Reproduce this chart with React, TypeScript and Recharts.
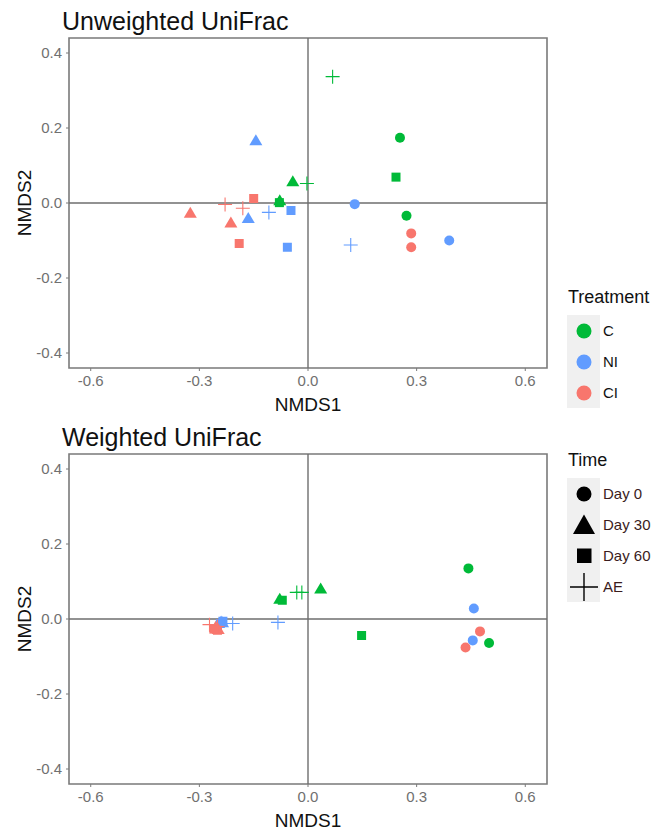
import React from "react"
import {
  ScatterChart,
  Scatter,
  XAxis,
  YAxis,
  ReferenceLine,
  ReferenceArea,
} from "recharts"

type Pt = { x: number; y: number; time: string }

const TREATMENTS = ["C", "NI", "CI"]
const TIMES = ["Day 0", "Day 30", "Day 60", "AE"]
const X_TICKS = [-0.6, -0.3, 0, 0.3, 0.6]
const Y_TICKS = [-0.4, -0.2, 0, 0.2, 0.4]

// Unweighted UniFrac
const unweightedC: Pt[] = [
  { x: 0.254, y: 0.174, time: "Day 0" },
  { x: 0.272, y: -0.034, time: "Day 0" },
  { x: -0.042, y: 0.057, time: "Day 30" },
  { x: -0.078, y: 0.006, time: "Day 30" },
  { x: 0.243, y: 0.069, time: "Day 60" },
  { x: -0.079, y: 0.001, time: "Day 60" },
  { x: 0.068, y: 0.337, time: "AE" },
  { x: -0.003, y: 0.052, time: "AE" },
]
const unweightedNI: Pt[] = [
  { x: 0.129, y: -0.003, time: "Day 0" },
  { x: 0.39, y: -0.1, time: "Day 0" },
  { x: -0.144, y: 0.166, time: "Day 30" },
  { x: -0.165, y: -0.041, time: "Day 30" },
  { x: -0.047, y: -0.02, time: "Day 60" },
  { x: -0.057, y: -0.118, time: "Day 60" },
  { x: -0.108, y: -0.025, time: "AE" },
  { x: 0.118, y: -0.112, time: "AE" },
]
const unweightedCI: Pt[] = [
  { x: 0.285, y: -0.081, time: "Day 0" },
  { x: 0.285, y: -0.118, time: "Day 0" },
  { x: -0.325, y: -0.027, time: "Day 30" },
  { x: -0.213, y: -0.053, time: "Day 30" },
  { x: -0.15, y: 0.012, time: "Day 60" },
  { x: -0.19, y: -0.108, time: "Day 60" },
  { x: -0.229, y: -0.004, time: "AE" },
  { x: -0.18, y: -0.014, time: "AE" },
]

// Weighted UniFrac
const weightedC: Pt[] = [
  { x: 0.443, y: 0.135, time: "Day 0" },
  { x: 0.5, y: -0.064, time: "Day 0" },
  { x: 0.035, y: 0.08, time: "Day 30" },
  { x: -0.078, y: 0.053, time: "Day 30" },
  { x: 0.148, y: -0.044, time: "Day 60" },
  { x: -0.071, y: 0.05, time: "Day 60" },
  { x: -0.031, y: 0.071, time: "AE" },
  { x: -0.017, y: 0.071, time: "AE" },
]
const weightedNI: Pt[] = [
  { x: 0.458, y: 0.028, time: "Day 0" },
  { x: 0.455, y: -0.057, time: "Day 0" },
  { x: -0.24, y: -0.008, time: "Day 30" },
  { x: -0.236, y: -0.01, time: "Day 30" },
  { x: -0.235, y: -0.006, time: "Day 60" },
  { x: -0.242, y: -0.012, time: "Day 60" },
  { x: -0.083, y: -0.009, time: "AE" },
  { x: -0.208, y: -0.012, time: "AE" },
]
const weightedCI: Pt[] = [
  { x: 0.475, y: -0.033, time: "Day 0" },
  { x: 0.435, y: -0.076, time: "Day 0" },
  { x: -0.255, y: -0.022, time: "Day 30" },
  { x: -0.248, y: -0.028, time: "Day 30" },
  { x: -0.26, y: -0.027, time: "Day 60" },
  { x: -0.25, y: -0.03, time: "Day 60" },
  { x: -0.272, y: -0.015, time: "AE" },
  { x: -0.25, y: -0.02, time: "AE" },
]

const COLORS: Record<string, string> = {
  C: "#00BA38",
  NI: "#619CFF",
  CI: "#F8766D",
}

const FONT = "'Liberation Sans', Arial, Helvetica, sans-serif"
const FRAME = "#7a7a7a"

function Marker(props: any) {
  const { cx, cy, payload, fill } = props
  if (cx == null || cy == null) return null
  switch (payload.time) {
    case "Day 0":
      return <circle cx={cx} cy={cy} r={5} fill={fill} />
    case "Day 30":
      return (
        <polygon
          points={`${cx},${cy - 6.5} ${cx - 6.5},${cy + 4.5} ${cx + 6.5},${cy + 4.5}`}
          fill={fill}
        />
      )
    case "Day 60":
      return <rect x={cx - 4.5} y={cy - 4.5} width={9} height={9} fill={fill} />
    default:
      return (
        <path
          d={`M${cx - 7},${cy}H${cx + 7}M${cx},${cy - 7}V${cy + 7}`}
          stroke={fill}
          strokeWidth={1.1}
          fill="none"
        />
      )
  }
}

function Panel({
  title,
  top,
  series,
}: {
  title: string
  top: number
  series: Pt[][]
}) {
  const tickStyle = { fill: "#707070", fontSize: 15, fontFamily: FONT }
  return (
    <div style={{ position: "absolute", left: 0, top, width: 661, height: 415 }}>
      <div
        style={{
          position: "absolute",
          left: 62,
          top: 8,
          fontFamily: FONT,
          fontSize: 25,
          lineHeight: "26px",
          color: "#111",
          whiteSpace: "nowrap",
        }}
      >
        {title}
      </div>
      <div
        style={{
          position: "absolute",
          left: 25,
          top: 203,
          transform: "translate(-50%, -50%) rotate(-90deg)",
          fontFamily: FONT,
          fontSize: 19,
          lineHeight: "20px",
          color: "#111",
          whiteSpace: "nowrap",
        }}
      >
        NMDS2
      </div>
      <ScatterChart
        width={661}
        height={415}
        margin={{ top: 38, right: 114, bottom: 0, left: 0 }}
        style={{ position: "absolute", left: 0, top: 0 }}
      >
        <XAxis
          type="number"
          dataKey="x"
          domain={[-0.66, 0.66]}
          ticks={X_TICKS}
          tickFormatter={(v: number) => v.toFixed(1)}
          height={47}
          tickSize={3}
          tickMargin={4}
          tick={tickStyle}
          stroke={FRAME}
          axisLine={false}
          allowDataOverflow
          label={{
            value: "NMDS1",
            position: "insideBottom",
            offset: 4,
            style: { fill: "#111", fontSize: 19, fontFamily: FONT },
          }}
        />
        <YAxis
          type="number"
          dataKey="y"
          domain={[-0.44, 0.44]}
          ticks={Y_TICKS}
          tickFormatter={(v: number) => v.toFixed(1)}
          width={69}
          tickSize={3}
          tickMargin={4}
          tick={tickStyle}
          stroke={FRAME}
          axisLine={false}
          allowDataOverflow
        />
        <ReferenceArea
          x1={-0.66}
          x2={0.66}
          y1={-0.44}
          y2={0.44}
          fill="none"
          fillOpacity={0}
          stroke={FRAME}
          strokeWidth={1.6}
        />
        <ReferenceLine x={0} stroke="#6e6e6e" strokeWidth={1.4} />
        <ReferenceLine y={0} stroke="#6e6e6e" strokeWidth={1.4} />
        {series.map((data, i) => (
          <Scatter
            key={TREATMENTS[i]}
            name={TREATMENTS[i]}
            data={data}
            fill={COLORS[TREATMENTS[i]]}
            shape={Marker}
            isAnimationActive={false}
          />
        ))}
      </ScatterChart>
    </div>
  )
}

function TimeSymbol({ time }: { time: string }) {
  return (
    <svg width={30} height={30} style={{ display: "block" }}>
      {time === "Day 0" && <circle cx={15} cy={15} r={7.5} fill="#000" />}
      {time === "Day 30" && <polygon points="15,4.5 4,24 26,24" fill="#000" />}
      {time === "Day 60" && <rect x={8} y={7.5} width={14.5} height={14.5} fill="#000" />}
      {time === "AE" && (
        <path d="M1,15H29M15,1V29" stroke="#000" strokeWidth={1.4} fill="none" />
      )}
    </svg>
  )
}

function Legends() {
  const row = (key: string, sym: React.ReactNode, label: string, color: string) => (
    <div key={key} style={{ display: "flex", alignItems: "center", height: 31 }}>
      <div
        style={{
          width: 33,
          height: 31,
          background: "#f0f0f0",
          display: "flex",
          alignItems: "center",
          justifyContent: "center",
        }}
      >
        {sym}
      </div>
      <span style={{ marginLeft: 3, fontSize: 15, color }}>{label}</span>
    </div>
  )
  return (
    <>
      <div style={{ position: "absolute", left: 567, top: 287, fontFamily: FONT }}>
        <div style={{ fontSize: 18, color: "#111", height: 28, marginLeft: 1 }}>Treatment</div>
        {TREATMENTS.map((t) =>
          row(
            t,
            <svg width={16} height={16} style={{ display: "block" }}>
              <circle cx={8} cy={8} r={7.5} fill={COLORS[t]} />
            </svg>,
            t,
            "#111"
          )
        )}
      </div>
      <div style={{ position: "absolute", left: 567, top: 450, fontFamily: FONT }}>
        <div style={{ fontSize: 18, color: "#111", height: 28, marginLeft: 1 }}>Time</div>
        {TIMES.map((t) => row(t, <TimeSymbol time={t} />, t, "#3a1c1c"))}
      </div>
    </>
  )
}

export default function App() {
  return (
    <div
      style={{
        position: "absolute",
        left: 0,
        top: 0,
        width: 661,
        height: 831,
        background: "#fff",
        overflow: "hidden",
      }}
    >
      <Panel
        title="Unweighted UniFrac"
        top={0}
        series={[unweightedC, unweightedNI, unweightedCI]}
      />
      <Panel
        title="Weighted UniFrac"
        top={416}
        series={[weightedC, weightedNI, weightedCI]}
      />
      <Legends />
    </div>
  )
}
